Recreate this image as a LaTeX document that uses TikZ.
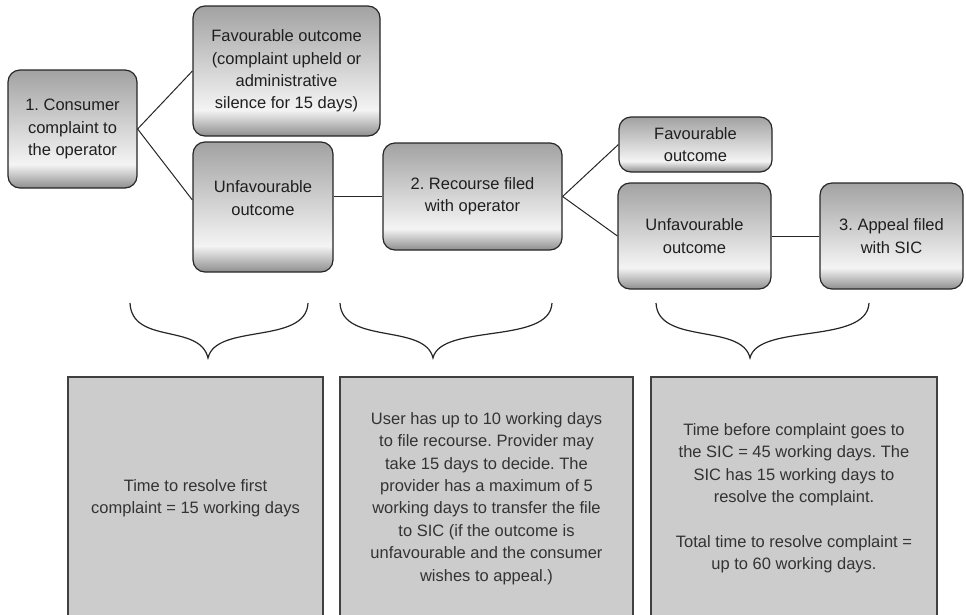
\documentclass[tikz,border=0pt]{standalone}
\usepackage{fontspec}
\setmainfont{Liberation Sans}
\usetikzlibrary{calc}
\definecolor{shB}{HTML}{8E8E8E}
\definecolor{shH}{HTML}{F4F4F4}
\definecolor{shT}{HTML}{A2A2A2}
\definecolor{panelfill}{HTML}{CCCCCC}
\pgfdeclareverticalshading{boxshade}{100bp}{color(0bp)=(shB); color(25bp)=(shB); color(35bp)=(shH); color(75bp)=(shT); color(100bp)=(shT)}
\frenchspacing
\begin{document}
\begin{tikzpicture}[x=1pt,y=-1pt,
  flow/.style={draw=black!85, line width=1.2pt, rounded corners=12pt, shading=boxshade,
    align=center, font=\fontsize{16.5}{22.3}\selectfont, text=black!88, inner sep=0pt},
  lbl/.style={align=center, font=\fontsize{16.5}{22.3}\selectfont, text=black!88, inner sep=0pt},
  panel/.style={draw=black!75, line width=1.3pt, fill=panelfill,
    align=center, font=\fontsize{16.5}{22.4}\selectfont, text=black!80, inner sep=0pt},
  conn/.style={draw=black!85, line width=1pt},
  brace/.style={draw=black!85, line width=1.2pt}]
\useasboundingbox (0,0) rectangle (966,614);

% flow boxes
\node[flow, minimum width=129pt, minimum height=118pt] (b1) at (72.5,129) {1. Consumer\\complaint to\\the operator};
\node[flow, minimum width=187pt, minimum height=130pt] (f1) at (286.5,71) {Favourable outcome\\(complaint upheld or\\administrative\\silence for 15 days)};
\node[flow, minimum width=140pt, minimum height=130pt,
  label={[lbl, name=u1t, yshift=9pt]center:{Unfavourable\\outcome}}] (u1) at (263,207) {};
\node[flow, minimum width=179pt, minimum height=107pt] (b2) at (472.5,196.5) {2. Recourse filed\\with operator};
\node[flow, minimum width=153pt, minimum height=55pt] (f2) at (695.5,144.5) {Favourable\\outcome};
\node[flow, minimum width=153pt, minimum height=106pt] (u2) at (694.5,236) {Unfavourable\\outcome};
\node[flow, minimum width=143pt, minimum height=106pt] (b3) at (891.5,236) {3. Appeal filed\\with SIC};

% connectors
\draw[conn] (b1.east) -- (f1.west);
\draw[conn] (b1.east) -- ([yshift=7pt]u1.west);
\draw[conn] (u1.east |- b2.west) -- (b2.west);
\draw[conn] (b2.east) -- (f2.west);
\draw[conn] (b2.east) -- (u2.west);
\draw[conn] (u2.east) -- (b3.west);

% braces
\draw[brace] (130,303) .. controls (132,345) and (200,323) .. (208,358) .. controls (216,323) and (306,345) .. (308,303);
\draw[brace] (340,303) .. controls (342,345) and (425,323) .. (433,358) .. controls (441,323) and (550,345) .. (552,303);
\draw[brace] (656,303) .. controls (658,345) and (742,323) .. (750,358) .. controls (758,323) and (867,345) .. (869,303);

% panels
\node[panel, minimum width=255pt, minimum height=243pt] (p1) at (195.5,498.5) {Time to resolve first\\complaint = 15 working days};
\node[panel, minimum width=293pt, minimum height=243pt] (p2) at (486.5,498.5) {User has up to 10 working days\\to file recourse. Provider may\\take 15 days to decide. The\\provider has a maximum of 5\\working days to transfer the file\\to SIC (if the outcome is\\unfavourable and the consumer\\wishes to appeal.)};
\node[panel, minimum width=286pt, minimum height=243pt] (p3) at (794,498.5) {Time before complaint goes to\\the SIC = 45 working days. The\\SIC has 15 working days to\\resolve the complaint.\\[22.4pt]Total time to resolve complaint =\\up to 60 working days.};
\end{tikzpicture}
\end{document}
